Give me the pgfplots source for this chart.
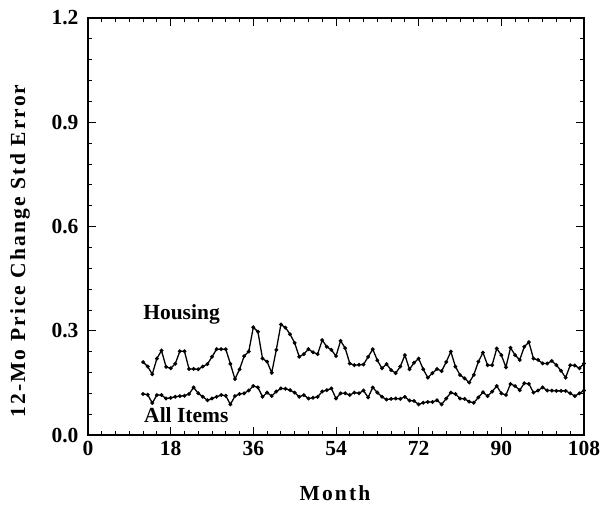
\documentclass[border=0pt]{standalone}
\usepackage{fontspec}
\setmainfont{Liberation Serif}
\newfontfamily\spaced[LetterSpace=10]{Liberation Serif}
\usepackage{pgfplots}
\pgfplotsset{compat=1.18}
\usepackage{pgfplotstable}

% month, housing, all items (std error of 12-month price change)
\pgfplotstableread{
m h a
12 0.210 0.118
13 0.197 0.116
14 0.175 0.092
15 0.220 0.115
16 0.243 0.115
17 0.196 0.105
18 0.192 0.107
19 0.205 0.110
20 0.241 0.112
21 0.241 0.113
22 0.190 0.118
23 0.190 0.137
24 0.189 0.120
25 0.197 0.110
26 0.204 0.100
27 0.225 0.105
28 0.247 0.110
29 0.247 0.115
30 0.247 0.113
31 0.205 0.088
32 0.161 0.112
33 0.189 0.118
34 0.227 0.120
35 0.240 0.128
36 0.310 0.141
37 0.297 0.137
38 0.220 0.110
39 0.211 0.122
40 0.179 0.112
41 0.245 0.125
42 0.318 0.134
43 0.309 0.133
44 0.290 0.129
45 0.265 0.122
46 0.225 0.110
47 0.233 0.115
48 0.247 0.105
49 0.238 0.107
50 0.233 0.110
51 0.273 0.125
52 0.254 0.129
53 0.245 0.134
54 0.227 0.105
55 0.271 0.120
56 0.250 0.120
57 0.206 0.115
58 0.201 0.122
59 0.202 0.120
60 0.203 0.128
61 0.225 0.108
62 0.247 0.137
63 0.215 0.122
64 0.192 0.110
65 0.204 0.102
66 0.187 0.104
67 0.178 0.105
68 0.197 0.104
69 0.230 0.110
70 0.189 0.099
71 0.208 0.098
72 0.220 0.088
73 0.189 0.093
74 0.165 0.095
75 0.178 0.095
76 0.190 0.100
77 0.184 0.088
78 0.210 0.105
79 0.240 0.122
80 0.197 0.118
81 0.173 0.105
82 0.163 0.104
83 0.151 0.096
84 0.173 0.093
85 0.211 0.108
86 0.237 0.123
87 0.201 0.112
88 0.201 0.125
89 0.249 0.141
90 0.230 0.120
91 0.195 0.115
92 0.251 0.147
93 0.230 0.141
94 0.216 0.129
95 0.254 0.149
96 0.267 0.147
97 0.220 0.122
98 0.216 0.128
99 0.206 0.137
100 0.206 0.128
101 0.213 0.128
102 0.201 0.127
103 0.185 0.127
104 0.165 0.127
105 0.201 0.120
106 0.200 0.112
107 0.192 0.120
108 0.206 0.128
}\stderr

\begin{document}
\begin{tikzpicture}
  \useasboundingbox (-88pt,-69pt) rectangle (519pt,435pt);
  \begin{axis}[
    at={(0pt,0pt)}, anchor=south west,
    scale only axis, width=496pt, height=417pt,
    xmin=0, xmax=108, ymin=0, ymax=1.2,
    xtick={0,18,...,108}, ytick={0,0.3,...,1.2},
    minor x tick num=5, minor y tick num=4,
    tick align=inside,
    major tick length=8pt, minor tick length=4pt,
    axis line style={line width=1.1pt},
    every tick/.style={black, line width=0.8pt},
    font=\fontsize{21.5}{25}\selectfont\bfseries,
    tick label style={font=\fontsize{21.5}{25}\selectfont\bfseries},
    /pgf/number format/assume math mode=true,
    yticklabel style={/pgf/number format/fixed, /pgf/number format/fixed zerofill,
      /pgf/number format/precision=1, xshift=-6pt},
    xticklabel style={yshift=-3pt},
    xlabel={\spaced Month}, ylabel={\spaced 12-Mo Price Change Std Error},
    xlabel style={at={(axis description cs:0.498,-0.139)}, anchor=center},
    ylabel style={at={(axis description cs:-0.137,0.441)}, anchor=center},
  ]
    \addplot[black, line width=1.3pt, mark=*, mark size=1.2pt] table[x=m, y=h] {\stderr};
    \addplot[black, line width=1.3pt, mark=*, mark size=1.2pt] table[x=m, y=a] {\stderr};
    \node[anchor=base west, inner sep=0pt] at (axis cs:12,0.331) {Housing};
    \node[anchor=base west, inner sep=0pt] at (axis cs:12.2,0.035) {All Items};
  \end{axis}
\end{tikzpicture}
\end{document}
